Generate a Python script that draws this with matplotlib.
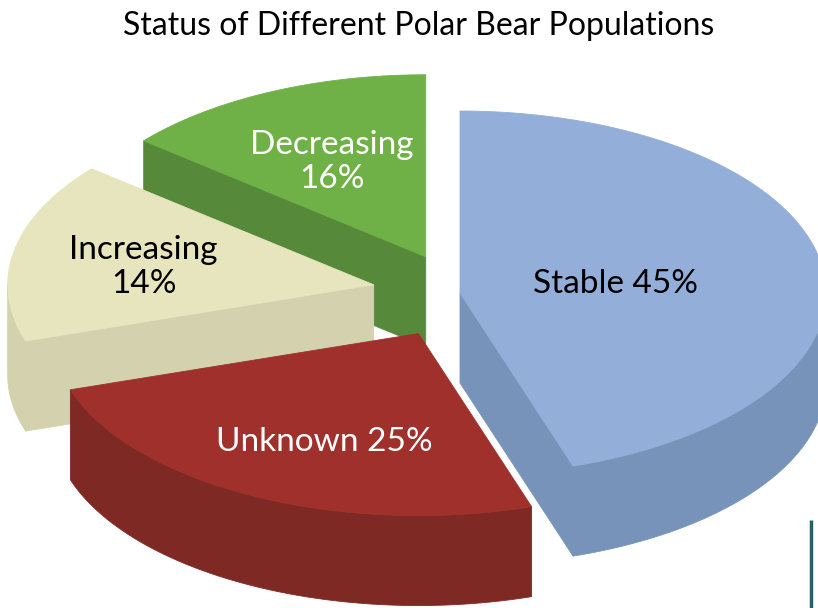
import numpy as np
import matplotlib
matplotlib.use("Agg")
import matplotlib.pyplot as plt
from matplotlib.patches import Polygon

# ---------------- data ----------------
title = "Status of Different Polar Bear Populations"
categories = ["Stable", "Unknown", "Increasing", "Decreasing"]
label_pct = [45, 25, 14, 16]          # percentages printed on the slices
slice_pct = [45, 25, 16, 14]          # slice sizes as drawn in the picture

# ---------------- style ----------------
top_colors = ["#93AED8", "#A0302B", "#E7E5BE", "#6FB146"]
wall_colors = ["#7893B9", "#7F2925", "#D3D1AE", "#568A3A"]
text_colors = ["black", "white", "black", "white"]
explode = [0.0, 0.25, 0.24, 0.22]
label_r = [0.43, 0.60, 0.64, 0.60]
label_shift = [(0, 3), (6, 11), (0, 4), (0, 4)]
label_fmt = ["{} {}%", "{} {}%", "{}\n{}%", "{}\n{}%"]

W, H = 818, 608
fig = plt.figure(figsize=(W / 100, H / 100), dpi=100)
ax = fig.add_axes([0, 0, 1, 1])
ax.set_xlim(0, W)
ax.set_ylim(H, 0)
ax.axis("off")

plt.rcParams["font.family"] = ["Lato", "DejaVu Sans"]

cx, cy = 460, 293      # pie centre
rx, ry = 366, 182      # projected radii
depth = 90             # thickness


def pt(theta, r, ox, oy, h=0.0):
    t = np.radians(theta)
    return ox + r * rx * np.sin(t), oy - r * ry * np.cos(t) + h


def arc(a0, a1, ox, oy, h=0.0, n=80):
    th = np.linspace(a0, a1, n)
    xs, ys = pt(th, 1.0, ox, oy, h)
    return list(zip(xs, ys))


bounds = np.concatenate([[0], np.cumsum(slice_pct)]) * 3.6
slices = []
for i in range(len(categories)):
    a0, a1 = bounds[i], bounds[i + 1]
    mid = 0.5 * (a0 + a1)
    ox, oy = pt(mid, explode[i], cx, cy)
    slices.append((oy, i, a0, a1, mid, ox))

# back to front
for oy, i, a0, a1, mid, ox in sorted(slices):
    kw = dict(linewidth=0.6, joinstyle="round")
    # radial faces
    if np.sin(np.radians(a0)) < -1e-6:
        p1 = pt(a0, 1, ox, oy)
        p2 = pt(a0, 1, ox, oy, depth)
        poly = [(ox, oy), p1, p2, (ox, oy + depth)]
        ax.add_patch(Polygon(poly, closed=True, facecolor=wall_colors[i],
                             edgecolor=wall_colors[i], **kw))
    if np.sin(np.radians(a1)) > 1e-6:
        p1 = pt(a1, 1, ox, oy)
        p2 = pt(a1, 1, ox, oy, depth)
        poly = [(ox, oy), p1, p2, (ox, oy + depth)]
        ax.add_patch(Polygon(poly, closed=True, facecolor=wall_colors[i],
                             edgecolor=wall_colors[i], **kw))
    # outer curved wall (front half)
    w0, w1 = max(a0, 90), min(a1, 270)
    if w1 > w0:
        poly = arc(w0, w1, ox, oy) + arc(w0, w1, ox, oy, depth)[::-1]
        ax.add_patch(Polygon(poly, closed=True, facecolor=wall_colors[i],
                             edgecolor=wall_colors[i], **kw))
    # top face
    poly = [(ox, oy)] + arc(a0, a1, ox, oy)
    ax.add_patch(Polygon(poly, closed=True, facecolor=top_colors[i],
                         edgecolor=top_colors[i], **kw))
    lx, ly = pt(mid, label_r[i], ox, oy)
    dx, dy = label_shift[i]
    ax.text(lx + dx, ly + dy,
            label_fmt[i].format(categories[i], label_pct[i]),
            ha="center", va="center", fontsize=24, color=text_colors[i],
            linespacing=1.15)

ax.text(W / 2 + 10, 26, title, ha="center", va="center", fontsize=23,
        color="black")

# slide decoration line at lower right
ax.plot([811, 811], [520, H], color="#2E5F66", linewidth=2.5,
        solid_capstyle="butt")

fig.savefig("out.png", dpi=100)
